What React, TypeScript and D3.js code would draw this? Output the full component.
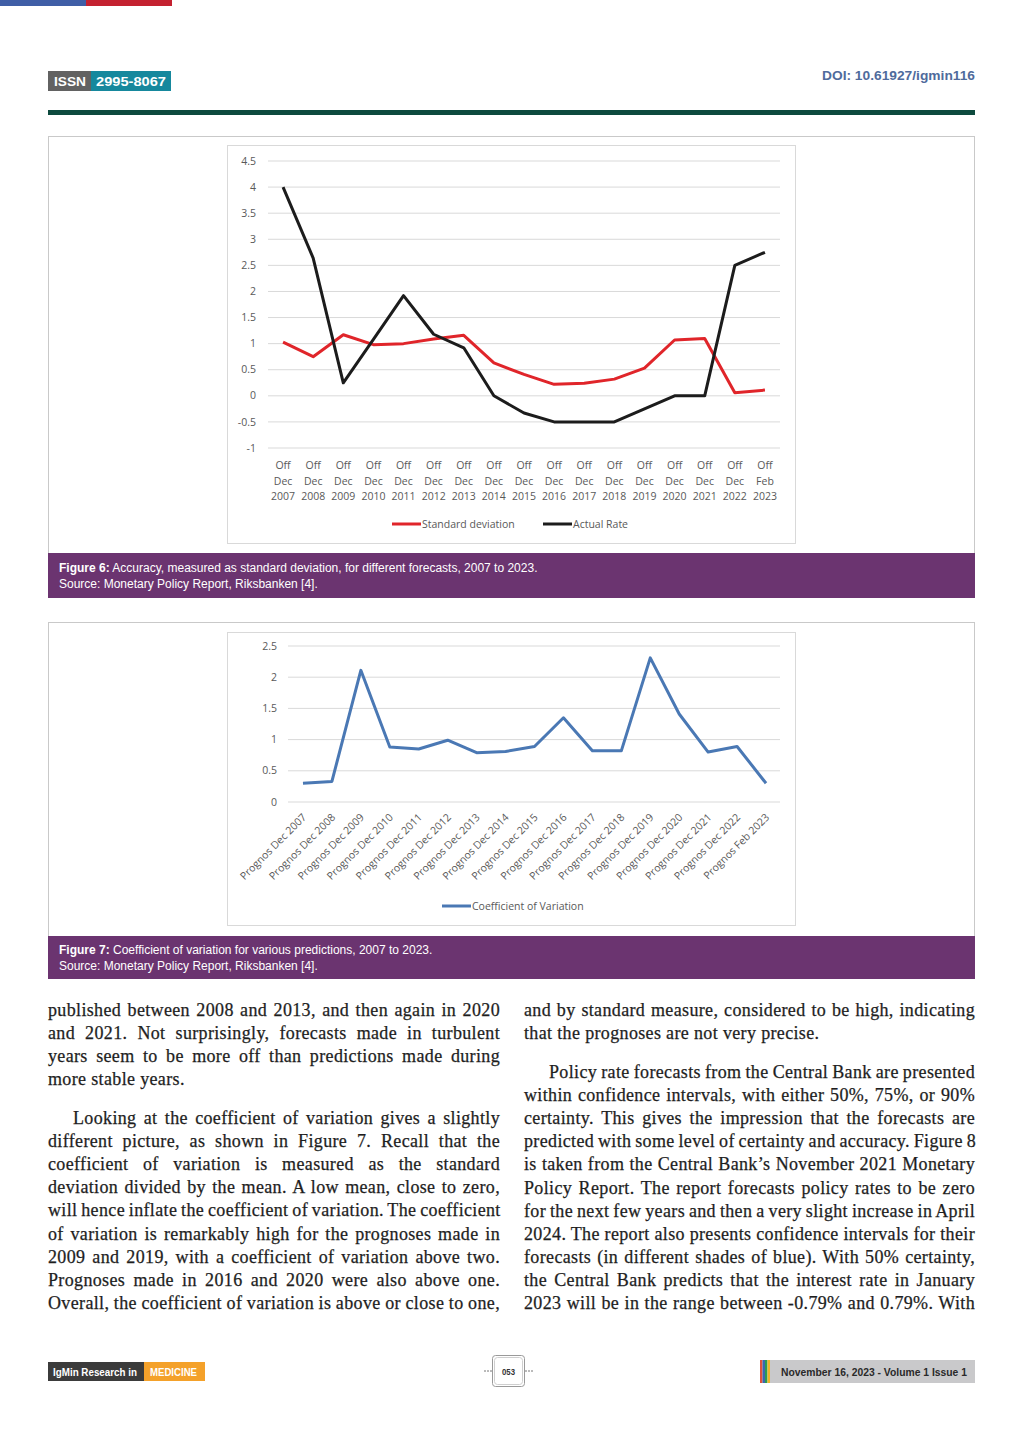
import React, { useLayoutEffect, useRef } from "react";
import * as d3 from "d3";

// ---------- Figure 6 data ----------
const fig6Months = ["Dec","Dec","Dec","Dec","Dec","Dec","Dec","Dec","Dec","Dec","Dec","Dec","Dec","Dec","Dec","Dec","Feb"];
const fig6Years = ["2007","2008","2009","2010","2011","2012","2013","2014","2015","2016","2017","2018","2019","2020","2021","2022","2023"];
const fig6Categories = fig6Years.map((y, i) => `Off ${fig6Months[i]} ${y}`);
const stdDeviation = [1.03, 0.75, 1.17, 0.98, 1.0, 1.09, 1.16, 0.63, 0.41, 0.22, 0.24, 0.32, 0.53, 1.07, 1.1, 0.06, 0.11];
const actualRate = [4.0, 2.64, 0.25, 1.08, 1.92, 1.18, 0.92, 0.0, -0.33, -0.5, -0.5, -0.5, -0.25, 0.0, 0.0, 2.5, 2.75];
const fig6YTicks = [-1, -0.5, 0, 0.5, 1, 1.5, 2, 2.5, 3, 3.5, 4, 4.5];

// ---------- Figure 7 data ----------
const fig7Categories = fig6Years.map((y, i) => `Prognos ${fig6Months[i]} ${y}`);
const coefVariation = [0.3, 0.33, 2.11, 0.88, 0.85, 0.99, 0.79, 0.81, 0.89, 1.35, 0.82, 0.82, 2.31, 1.41, 0.8, 0.89, 0.3];
const fig7YTicks = [0, 0.5, 1, 1.5, 2, 2.5];

// ---------- Body text ----------
const leftPara1 = [
  "published between 2008 and 2013, and then again in 2020",
  "and 2021. Not surprisingly, forecasts made in turbulent",
  "years seem to be more off than predictions made during",
  "more stable years.",
];
const leftPara2 = [
  "Looking at the coefficient of variation gives a slightly",
  "different picture, as shown in Figure 7. Recall that the",
  "coefficient of variation is measured as the standard",
  "deviation divided by the mean. A low mean, close to zero,",
  "will hence inflate the coefficient of variation. The coefficient",
  "of variation is remarkably high for the prognoses made in",
  "2009 and 2019, with a coefficient of variation above two.",
  "Prognoses made in 2016 and 2020 were also above one.",
  "Overall, the coefficient of variation is above or close to one,",
];
const rightPara1 = [
  "and by standard measure, considered to be high, indicating",
  "that the prognoses are not very precise.",
];
const rightPara2 = [
  "Policy rate forecasts from the Central Bank are presented",
  "within confidence intervals, with either 50%, 75%, or 90%",
  "certainty. This gives the impression that the forecasts are",
  "predicted with some level of certainty and accuracy. Figure 8",
  "is taken from the Central Bank\u2019s November 2021 Monetary",
  "Policy Report. The report forecasts policy rates to be zero",
  "for the next few years and then a very slight increase in April",
  "2024. The report also presents confidence intervals for their",
  "forecasts (in different shades of blue). With 50% certainty,",
  "the Central Bank predicts that the interest rate in January",
  "2023 will be in the range between -0.79% and 0.79%. With",
];

const CHART_FONT = "'Open Sans', 'Noto Sans', sans-serif";
const SANS = "'Liberation Sans', Arial, sans-serif";
const SERIF = "'Liberation Serif', 'DejaVu Serif', serif";
const AXIS_GREY = "#595959";
const GRID = "#d9d9d9";

function Paragraph({ lines, x0, x1, indent, y0, justifyLast }: { lines: string[]; x0: number; x1: number; indent: number; y0: number; justifyLast?: boolean }) {
  const lh = 23.1;
  const refs = useRef<(SVGTextElement | null)[]>([]);
  useLayoutEffect(() => {
    refs.current.forEach((el, i) => {
      if (!el) return;
      const isLast = i === lines.length - 1;
      if (isLast && !justifyLast) return;
      el.setAttribute("word-spacing", "0");
      const natural = el.getComputedTextLength();
      const x = i === 0 ? x0 + indent : x0;
      const spaces = (lines[i].match(/ /g) || []).length;
      if (spaces > 0) el.setAttribute("word-spacing", String(Math.max(-1, (x1 - x - natural) / spaces)));
    });
  }, []);
  return (
    <g fontFamily={SERIF} fontSize={18} letterSpacing={0.35} fill="#1e1e1e" stroke="#1e1e1e" strokeWidth={0.25}>
      {lines.map((t, i) => {
        const x = i === 0 ? x0 + indent : x0;
        return (
          <text key={i} ref={(el) => { refs.current[i] = el; }} x={x} y={y0 + i * lh}>
            {t}
          </text>
        );
      })}
    </g>
  );
}

function Figure6() {
  const x = d3.scaleBand<string>().domain(fig6Categories).range([268, 780]);
  const cx = (c: string) => (x(c) as number) + x.bandwidth() / 2;
  const y = d3.scaleLinear().domain([-1, 4.5]).range([448, 161]);
  const line = d3
    .line<number>()
    .x((_, i) => cx(fig6Categories[i]))
    .y((d) => y(d));
  return (
    <g>
      <rect x={48.5} y={136.5} width={926} height={461} fill="#fff" stroke="#c9c9c9" />
      <rect x={227.5} y={145.5} width={568} height={398} fill="#fff" stroke={GRID} />
      {fig6YTicks.map((t) => (
        <g key={t}>
          <line x1={268} x2={780} y1={y(t)} y2={y(t)} stroke={GRID} strokeWidth={1} />
          <text x={256} y={y(t)} dy="0.35em" textAnchor="end" fontFamily={CHART_FONT} fontSize={10.5} fill={AXIS_GREY}>
            {String(t)}
          </text>
        </g>
      ))}
      {fig6Categories.map((c, i) => (
        <text key={c} x={cx(c)} textAnchor="middle" fontFamily={CHART_FONT} fontSize={10.5} fill={AXIS_GREY}>
          <tspan x={cx(c)} y={469}>Off</tspan>
          <tspan x={cx(c)} y={484.5}>{fig6Months[i]}</tspan>
          <tspan x={cx(c)} y={500}>{fig6Years[i]}</tspan>
        </text>
      ))}
      <path d={line(stdDeviation) as string} fill="none" stroke="#e0252a" strokeWidth={3} strokeLinejoin="round" />
      <path d={line(actualRate) as string} fill="none" stroke="#1c1c1c" strokeWidth={3} strokeLinejoin="round" />
      <g fontFamily={CHART_FONT} fontSize={10.5} fill={AXIS_GREY}>
        <line x1={392} x2={421} y1={524} y2={524} stroke="#e0252a" strokeWidth={3} />
        <text x={422} y={524} dy="0.35em">Standard deviation</text>
        <line x1={543} x2={572} y1={524} y2={524} stroke="#1c1c1c" strokeWidth={3} />
        <text x={573} y={524} dy="0.35em">Actual Rate</text>
      </g>
      <rect x={48} y={553} width={927} height={45} fill="#6b3470" />
      <g fontFamily={SANS} fontSize={12} fill="#fff">
        <text x={59} y={572}>
          <tspan fontWeight="bold">Figure 6:</tspan> Accuracy, measured as standard deviation, for different forecasts, 2007 to 2023.
        </text>
        <text x={59} y={588}>Source: Monetary Policy Report, Riksbanken [4].</text>
      </g>
    </g>
  );
}

function Figure7() {
  const x = d3.scaleBand<string>().domain(fig7Categories).range([288.5, 780.5]);
  const cx = (c: string) => (x(c) as number) + x.bandwidth() / 2;
  const y = d3.scaleLinear().domain([0, 2.5]).range([802, 646]);
  const line = d3
    .line<number>()
    .x((_, i) => cx(fig7Categories[i]))
    .y((d) => y(d));
  return (
    <g>
      <rect x={48.5} y={622.5} width={926} height={356} fill="#fff" stroke="#c9c9c9" />
      <rect x={227.5} y={632.5} width={568} height={293} fill="#fff" stroke={GRID} />
      {fig7YTicks.map((t) => (
        <g key={t}>
          <line x1={288} x2={780} y1={y(t)} y2={y(t)} stroke={GRID} strokeWidth={1} />
          <text x={277} y={y(t)} dy="0.35em" textAnchor="end" fontFamily={CHART_FONT} fontSize={10.5} fill={AXIS_GREY}>
            {String(t)}
          </text>
        </g>
      ))}
      {fig7Categories.map((c) => (
        <text
          key={c}
          transform={`translate(${cx(c) + 4},${818}) rotate(-45)`}
          textAnchor="end"
          fontFamily={CHART_FONT}
          fontSize={10.5}
          fill={AXIS_GREY}
        >
          {c}
        </text>
      ))}
      <path d={line(coefVariation) as string} fill="none" stroke="#4a78b4" strokeWidth={3} strokeLinejoin="round" />
      <g fontFamily={CHART_FONT} fontSize={10.5} fill={AXIS_GREY}>
        <line x1={442} x2={471} y1={906} y2={906} stroke="#4a78b4" strokeWidth={3} />
        <text x={472} y={906} dy="0.35em">Coefficient of Variation</text>
      </g>
      <rect x={48} y={936} width={927} height={43} fill="#6b3470" />
      <g fontFamily={SANS} fontSize={12} fill="#fff">
        <text x={59} y={954}>
          <tspan fontWeight="bold">Figure 7:</tspan> Coefficient of variation for various predictions, 2007 to 2023.
        </text>
        <text x={59} y={970}>Source: Monetary Policy Report, Riksbanken [4].</text>
      </g>
    </g>
  );
}

export default function App() {
  return (
    <div style={{ position: "absolute", left: 0, top: 0, width: 1024, height: 1448, background: "#fff" }}>
      <svg width={1024} height={1448} viewBox="0 0 1024 1448" style={{ display: "block" }}>
        <rect width={1024} height={1448} fill="#fff" />
        {/* top stripes */}
        <rect x={0} y={0} width={86} height={6} fill="#3f5ea6" />
        <rect x={86} y={0} width={86} height={6} fill="#c42130" />
        {/* ISSN badge */}
        <rect x={48} y={71} width={43} height={20} fill="#626262" />
        <rect x={91} y={71} width={80} height={20} fill="#16889d" />
        <g fontFamily={SANS} fontWeight="bold" fill="#fff" fontSize={12.5}>
          <text x={54} y={86} textLength={32} lengthAdjust="spacingAndGlyphs">ISSN</text>
          <text x={96} y={86} textLength={70} lengthAdjust="spacingAndGlyphs">2995-8067</text>
        </g>
        <text x={822} y={80} fontFamily={SANS} fontSize={12.5} fontWeight="bold" fill="#4f6b9c" textLength={153} lengthAdjust="spacingAndGlyphs">DOI: 10.61927/igmin116</text>
        <rect x={48} y={110} width={927} height={5} fill="#0d4a3e" />

        <Figure6 />
        <Figure7 />

        <Paragraph lines={leftPara1} x0={48} x1={500} indent={0} y0={1016} />
        <Paragraph lines={leftPara2} x0={48} x1={500} indent={25} y0={1124} justifyLast />
        <Paragraph lines={rightPara1} x0={524} x1={975} indent={0} y0={1016} />
        <Paragraph lines={rightPara2} x0={524} x1={975} indent={25} y0={1078} justifyLast />

        {/* footer */}
        <rect x={48} y={1362} width={96} height={19} fill="#3b3b3b" />
        <rect x={144} y={1362} width={61} height={19} fill="#f4a12a" />
        <g fontFamily={SANS} fontSize={10} fontWeight="bold" fill="#fff">
          <text x={53} y={1376} textLength={84} lengthAdjust="spacingAndGlyphs">IgMin Research in</text>
          <text x={150} y={1376} textLength={47} lengthAdjust="spacingAndGlyphs">MEDICINE</text>
        </g>
        <rect x={492.5} y={1355.5} width={32} height={31} rx={3} fill="#fff" stroke="#9a9a9a" />
        <rect x={494.5} y={1357.5} width={28} height={27} rx={3} fill="#fff" stroke="#cfcfcf" />
        <line x1={484} x2={492} y1={1371} y2={1371} stroke="#777" strokeDasharray="2 1" />
        <line x1={525} x2={533} y1={1371} y2={1371} stroke="#777" strokeDasharray="2 1" />
        <text x={502} y={1374.5} fontFamily={SANS} fontSize={9} fontWeight="bold" fill="#333" textLength={13} lengthAdjust="spacingAndGlyphs">053</text>
        <rect x={760} y={1360} width={2.5} height={23} fill="#e0523a" />
        <rect x={762.5} y={1360} width={2.5} height={23} fill="#3b67b0" />
        <rect x={765} y={1360} width={2.5} height={23} fill="#2e9a52" />
        <rect x={767.5} y={1360} width={2.5} height={23} fill="#f0b428" />
        <rect x={770} y={1360} width={205} height={23} fill="#c9c9cb" />
        <text x={781} y={1376} fontFamily={SANS} fontSize={10.5} fontWeight="bold" fill="#2a2a2a" textLength={186} lengthAdjust="spacingAndGlyphs">November 16, 2023 - Volume 1 Issue 1</text>
      </svg>
    </div>
  );
}
